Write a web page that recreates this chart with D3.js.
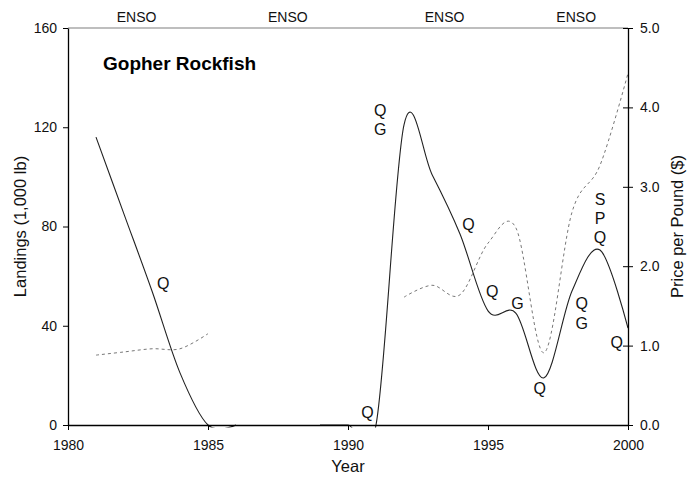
<!DOCTYPE html>
<html><head><meta charset="utf-8">
<script src="https://cdn.jsdelivr.net/npm/d3@7"></script>
<style>body{margin:0;background:#fff}svg{display:block}text{font-family:"Liberation Sans",Arial,sans-serif}</style>
</head><body>
<script>
const years = d3.range(1981, 2001);
const landings = [116, 85, 54, 21, 0, 0, null, null, 0, 0, 0, 121, 101, 77, 46, 45, 19, 54, 70.5, 39];
const price = [0.88, 0.92, 0.96, 0.96, 1.15, null, null, null, null, null, null, 1.61, 1.76, 1.64, 2.29, 2.48, 0.91, 2.68, 3.27, 4.43];
const leftTicks = [0, 40, 80, 120, 160];
const rightTicks = [0, 1, 2, 3, 4, 5];
const xTicks = [1980, 1985, 1990, 1995, 2000];
const ensoYears = [1982.45, 1987.85, 1993.45, 1998.15];
const labelText = ["Q", "Q", "G", "Q", "Q", "G", "Q", "Q", "G", "S", "P", "Q", "Q", "Q"];
const labelYear = [1983.4, 1991.15, 1991.15, 1994.3, 1995.15, 1996.05, 1996.85, 1998.35, 1998.35, 1999.0, 1999.0, 1999.0, 1999.6, 1990.7];
const labelVal = [57, 127, 119, 81, 54, 49, 15, 49, 41, 91, 83.5, 75.5, 33.5, 5];

const W = 698, H = 477;
const m = {l: 68, r: 70, t: 28, b: 52};
const svg = d3.select("body").append("svg").attr("width", W).attr("height", H);
const x = d3.scaleLinear().domain([1980, 2000]).range([m.l, W - m.r]);
const y = d3.scaleLinear().domain([0, 160]).range([H - m.b, m.t]);
const y2 = d3.scaleLinear().domain([0, 5]).range([H - m.b, m.t]);

svg.append("defs").append("clipPath").attr("id", "clip")
  .append("rect").attr("x", m.l - 2).attr("y", m.t).attr("width", W - m.l - m.r + 4).attr("height", H - m.t - m.b + 2.5);

// top border
svg.append("line").attr("x1", x(1980)).attr("x2", x(2000)).attr("y1", y(160)).attr("y2", y(160))
  .attr("stroke", "#a8a8a8").attr("stroke-width", 1.5);

const g = svg.append("g").attr("clip-path", "url(#clip)");
const curve = d3.curveCardinal.tension(0);
const lineL = d3.line().defined(d => d[1] != null).x(d => x(d[0])).y(d => y(d[1])).curve(curve);
const lineP = d3.line().defined(d => d[1] != null).x(d => x(d[0])).y(d => y2(d[1])).curve(curve);
g.append("path").datum(years.map((yr, i) => [yr, price[i]])).attr("d", lineP)
  .attr("fill", "none").attr("stroke", "#777").attr("stroke-width", 1).attr("stroke-dasharray", "3,3");
g.append("path").datum(years.map((yr, i) => [yr, landings[i]])).attr("d", lineL)
  .attr("fill", "none").attr("stroke", "#222").attr("stroke-width", 1.1);

// axes
const fs = "14px";
const ax = svg.append("g").attr("transform", `translate(0,${H - m.b})`)
  .call(d3.axisBottom(x).tickValues(xTicks).tickFormat(d3.format("d")).tickSize(5).tickSizeOuter(0));
const ay = svg.append("g").attr("transform", `translate(${m.l},0)`)
  .call(d3.axisLeft(y).tickValues(leftTicks).tickSize(5).tickSizeOuter(0));
const ay2 = svg.append("g").attr("transform", `translate(${W - m.r},0)`)
  .call(d3.axisRight(y2).tickValues(rightTicks).tickFormat(d3.format(".1f")).tickSize(5).tickSizeOuter(0));
ay2.selectAll(".tick line").attr("x1", -5);
[ax, ay, ay2].forEach(a => {
  a.select(".domain").attr("stroke", "#000").attr("stroke-width", 1.3);
  a.selectAll(".tick line").attr("stroke", "#000");
  a.selectAll("text").attr("fill", "#111").style("font-size", fs).style("font-family", "Liberation Sans, Arial, sans-serif");
});
ax.selectAll("text").attr("dy", "1.2em");
ay.selectAll("text").attr("x", -11);
ay2.selectAll("text").attr("x", 12);

// titles
svg.append("text").attr("x", x(1990)).attr("y", 472).attr("text-anchor", "middle")
  .style("font-size", "16.5px").attr("fill", "#111").text("Year");
svg.append("text").attr("transform", `translate(26,${y(80)}) rotate(-90)`).attr("text-anchor", "middle")
  .style("font-size", "16.5px").attr("fill", "#111").text("Landings (1,000 lb)");
svg.append("text").attr("transform", `translate(683,${y(80)}) rotate(-90)`).attr("text-anchor", "middle")
  .style("font-size", "16.5px").attr("fill", "#111").text("Price per Pound ($)");
svg.append("text").attr("x", 103).attr("y", 70).style("font-size", "19px").style("font-weight", "bold")
  .attr("fill", "#000").text("Gopher Rockfish");

// ENSO
svg.selectAll(".enso").data(ensoYears).join("text").attr("class", "enso")
  .attr("x", d => x(d)).attr("y", 22).attr("text-anchor", "middle")
  .style("font-size", "14px").attr("fill", "#111").text("ENSO");

// letter annotations
svg.selectAll(".lab").data(labelText).join("text").attr("class", "lab")
  .attr("x", (d, i) => x(labelYear[i])).attr("y", (d, i) => y(labelVal[i])).attr("dy", "0.36em")
  .attr("text-anchor", "middle").style("font-size", "16px").attr("fill", "#111").text(d => d);
</script>
</body></html>
